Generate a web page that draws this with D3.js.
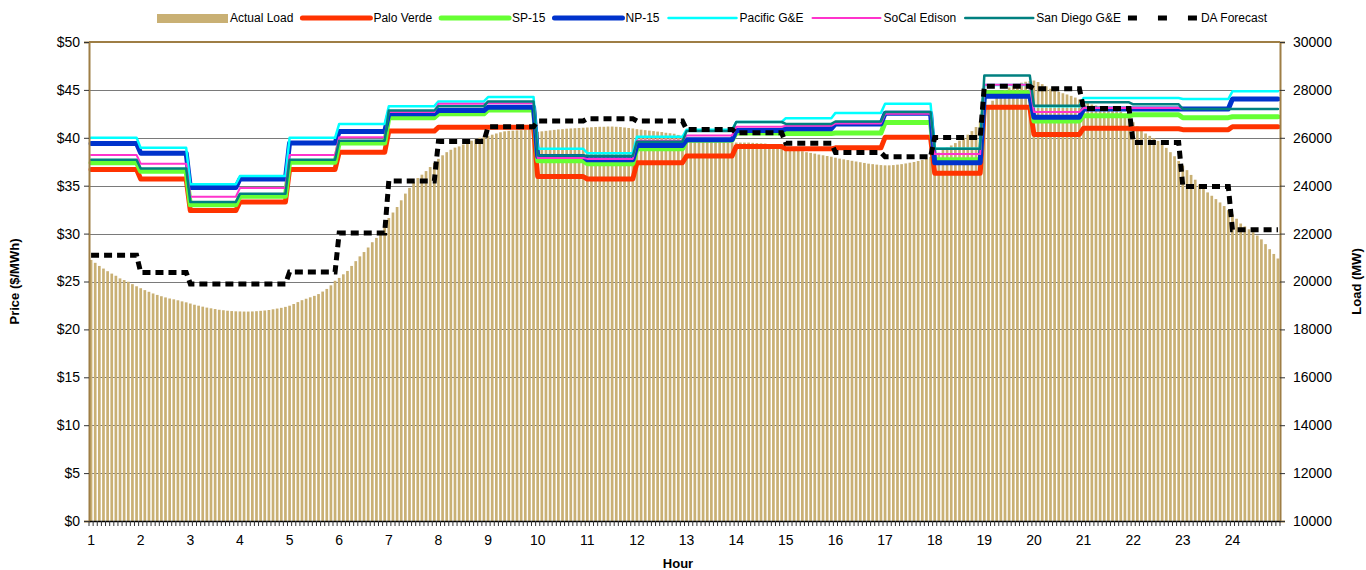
<!DOCTYPE html>
<html>
<head>
<meta charset="utf-8">
<script src="https://cdn.jsdelivr.net/npm/d3@7"></script>
<style>
  body { margin: 0; background: #fff; }
  svg { display: block; font-family: 'Liberation Sans', Arial, sans-serif; }
  .axis text { font-size: 14px; fill: #000; }
  .title { font-size: 13px; font-weight: bold; }
  .legend text { font-size: 12px; }
</style>
</head>
<body>
<svg id="chart" width="1366" height="570"></svg>
<script>
// hour labels
const hours = [1, 2, 3, 4, 5, 6, 7, 8, 9, 10, 11, 12, 13, 14, 15, 16, 17, 18, 19, 20, 21, 22, 23, 24]

// actual load, MW, one value every 5 minutes (12 per hour)
const actualLoad = [
  20900, 20780, 20650, 20540, 20430, 20330, 20240, 20130, 20060, 19990, 19890, 19800,
  19720, 19640, 19570, 19500, 19440, 19385, 19335, 19290, 19255, 19215, 19170, 19130,
  19080, 19030, 18990, 18950, 18910, 18880, 18850, 18820, 18800, 18780, 18765, 18755,
  18750, 18745, 18745, 18750, 18760, 18775, 18790, 18810, 18840, 18870, 18900, 18940,
  18990, 19060, 19140, 19220, 19280, 19340, 19400, 19475, 19580, 19690, 19840, 20030,
  20150, 20300, 20440, 20650, 20850, 21050, 21230, 21420, 21640, 21820, 22030, 22300,
  22650, 22880, 23110, 23390, 23670, 23910, 24160, 24320, 24460, 24610, 24780, 24950,
  25120, 25270, 25400, 25500, 25590, 25640, 25720, 25790, 25880, 25940, 26000, 26040,
  26080, 26130, 26180, 26230, 26270, 26290, 26300, 26310, 26320, 26340, 26350, 26360,
  26250, 26270, 26290, 26310, 26330, 26350, 26360, 26380, 26390, 26400, 26410, 26420,
  26430, 26440, 26450, 26460, 26460, 26470, 26470, 26460, 26450, 26430, 26410, 26390,
  26360, 26340, 26320, 26300, 26280, 26260, 26240, 26210, 26190, 26170, 26120, 26050,
  25990, 25950, 25920, 25900, 25880, 25860, 25850, 25840, 25830, 25820, 25810, 25800,
  25800, 25800, 25800, 25800, 25790, 25780, 25770, 25760, 25740, 25720, 25700, 25670,
  25600, 25560, 25520, 25480, 25440, 25400, 25370, 25340, 25300, 25270, 25240, 25210,
  25170, 25130, 25100, 25070, 25040, 25010, 24980, 24950, 24920, 24900, 24880, 24860,
  24850, 24850, 24860, 24880, 24900, 24930, 24960, 24990, 25030, 25080, 25130, 25200,
  25250, 25380, 25500, 25590, 25680, 25780, 25880, 26000, 26130, 26280, 26450, 26700,
  27000, 27300, 27550, 27750, 27900, 28000, 28100, 28180, 28250, 28300, 28340, 28370,
  28390, 28330, 28240, 28150, 28050, 27980, 27920, 27860, 27810, 27750, 27680, 27600,
  27520, 27450, 27390, 27350, 27310, 27270, 27220, 27180, 27140, 27090, 27000, 26880,
  26650, 26480, 26300, 26180, 26080, 25980, 25870, 25740, 25580, 25400, 25230, 25030,
  24840, 24650, 24450, 24250, 24050, 23860, 23720, 23580, 23440, 23300, 23150, 22980,
  22800, 22620, 22420, 22300, 22180, 22060, 21920, 21760, 21560, 21350, 21150, 20960
]

// hourly prices, $/MWh
const paloVerde = [36.7, 35.7, 32.4, 33.3, 36.7, 38.5, 40.7, 41.1, 41.1, 35.95, 35.7, 37.4, 38.1, 39.1, 38.85, 38.95, 40.05, 36.3, 43.2, 40.35, 41.0, 40.95, 40.85, 41.15]
const sp15 = [37.4, 36.5, 33.0, 33.9, 37.45, 39.45, 42.1, 42.5, 42.9, 37.6, 37.3, 38.85, 39.75, 40.5, 40.45, 40.5, 41.6, 37.7, 44.7, 41.75, 42.3, 42.4, 42.1, 42.2]
const np15 = [39.4, 38.4, 34.8, 35.7, 39.45, 40.65, 42.5, 42.85, 43.2, 38.05, 37.7, 39.2, 39.8, 40.75, 40.95, 41.45, 42.55, 37.4, 44.35, 42.15, 43.0, 43.0, 43.0, 44.05]
const pacificGE = [40.0, 38.95, 35.15, 36.0, 40.0, 41.45, 43.3, 43.8, 44.25, 38.85, 38.4, 40.1, 40.85, 41.65, 42.05, 42.6, 43.55, 38.85, 45.5, 43.3, 44.15, 44.15, 44.05, 44.85]
const socalEdison = [38.2, 37.3, 33.85, 34.75, 38.2, 40.05, 42.7, 43.55, 43.6, 37.9, 37.8, 39.7, 40.25, 41.15, 41.25, 41.5, 42.5, 38.3, 45.55, 42.7, 43.1, 43.1, 43.0, 43.0]
const sanDiegoGE = [37.7, 36.8, 33.3, 34.15, 37.7, 39.7, 42.85, 43.3, 43.8, 38.15, 38.1, 39.6, 40.7, 41.65, 41.45, 41.7, 42.7, 38.85, 46.5, 43.35, 43.7, 43.5, 43.0, 43.0]

// day-ahead load forecast, MW, hourly
const daForecast = [21100, 20380, 19900, 19900, 20400, 22030, 24200, 25850, 26460, 26700, 26800, 26700, 26350, 26210, 25770, 25390, 25210, 26010, 28150, 28050, 27220, 25800, 23970, 22160]

const priceTicks = [0, 5, 10, 15, 20, 25, 30, 35, 40, 45, 50]
const loadTicks = [10000, 12000, 14000, 16000, 18000, 20000, 22000, 24000, 26000, 28000, 30000]

const series = [
  { name: 'Palo Verde', values: paloVerde, color: '#FF3300', width: 5 },
  { name: 'SP-15', values: sp15, color: '#66FF33', width: 5 },
  { name: 'NP-15', values: np15, color: '#0033CC', width: 5 },
  { name: 'Pacific G&E', values: pacificGE, color: '#00FFFF', width: 2.5 },
  { name: 'SoCal Edison', values: socalEdison, color: '#FF33CC', width: 2 },
  { name: 'San Diego G&E', values: sanDiegoGE, color: '#008080', width: 2.5 }
]

const svg = d3.select('#chart')
const plotL = 89, plotR = 1280, plotT = 42, plotB = 521
const border = '#9E7E45'

const x = d3.scaleBand()
  .domain(d3.range(actualLoad.length))
  .range([plotL, plotR])
  .paddingInner(0.35)
  .paddingOuter(0.175)
const yPrice = d3.scaleLinear().domain([0, 50]).range([plotB, plotT])
const yLoad = d3.scaleLinear().domain([10000, 30000]).range([plotB, plotT])
const cx = i => x(i) + x.bandwidth() / 2

// gridlines
svg.append('g')
  .selectAll('line')
  .data(priceTicks.slice(1, -1))
  .join('line')
  .attr('x1', plotL).attr('x2', plotR)
  .attr('y1', d => Math.round(yPrice(d)) + 0.5)
  .attr('y2', d => Math.round(yPrice(d)) + 0.5)
  .attr('stroke', '#7a7a7a')

// load bars
svg.append('g')
  .selectAll('rect')
  .data(actualLoad)
  .join('rect')
  .attr('x', (d, i) => x(i))
  .attr('width', x.bandwidth())
  .attr('y', d => yLoad(d))
  .attr('height', d => plotB - yLoad(d))
  .attr('fill', '#C9B074')

// price lines, stepped by hour
const priceLine = d3.line().x(d => cx(d.i)).y(d => yPrice(d.v))
series.forEach(s => {
  const pts = d3.range(actualLoad.length).map(i => ({ i, v: s.values[Math.floor(i / 12)] }))
  svg.append('path')
    .datum(pts)
    .attr('d', priceLine)
    .attr('fill', 'none')
    .attr('stroke', s.color)
    .attr('stroke-width', s.width)
    .attr('stroke-linejoin', 'round')
    .attr('stroke-linecap', 'round')
})

// DA forecast on load axis
const loadLine = d3.line().x(d => cx(d.i)).y(d => yLoad(d.v))
svg.append('path')
  .datum(d3.range(actualLoad.length).map(i => ({ i, v: daForecast[Math.floor(i / 12)] })))
  .attr('d', loadLine)
  .attr('fill', 'none')
  .attr('stroke', '#000')
  .attr('stroke-width', 5)
  .attr('stroke-dasharray', '8,5')

// plot border top
svg.append('line')
  .attr('x1', plotL).attr('x2', plotR)
  .attr('y1', plotT).attr('y2', plotT)
  .attr('stroke', border).attr('stroke-width', 2)

// axes
const leftAxis = svg.append('g')
  .attr('class', 'axis')
  .attr('transform', `translate(${plotL},0)`)
  .call(d3.axisLeft(yPrice).tickValues(priceTicks).tickFormat(d => '$' + d).tickSize(5).tickPadding(4))
leftAxis.select('.domain').attr('stroke', border).attr('stroke-width', 2)
leftAxis.selectAll('.tick line').attr('stroke', '#333')

const rightAxis = svg.append('g')
  .attr('class', 'axis')
  .attr('transform', `translate(${plotR},0)`)
  .call(d3.axisRight(yLoad).tickValues(loadTicks).tickFormat(d3.format('d')).tickSize(5).tickPadding(8))
rightAxis.select('.domain').attr('stroke', border).attr('stroke-width', 2)
rightAxis.selectAll('.tick line').attr('stroke', '#333')

const bottomAxis = svg.append('g')
  .attr('class', 'axis')
  .attr('transform', `translate(0,${plotB})`)
  .call(d3.axisBottom(x)
    .tickValues(d3.range(0, actualLoad.length, 12))
    .tickFormat(i => hours[i / 12])
    .tickSize(0).tickPadding(14))
bottomAxis.select('.domain').attr('stroke', '#000').attr('stroke-width', 1.5)

// minor ticks at every interval
const gap = x.step() * x.paddingInner() / 2
bottomAxis.append('g')
  .selectAll('line')
  .data(d3.range(actualLoad.length + 1))
  .join('line')
  .attr('x1', i => (i < actualLoad.length ? x(i) - gap : plotR))
  .attr('x2', i => (i < actualLoad.length ? x(i) - gap : plotR))
  .attr('y1', 0).attr('y2', 5)
  .attr('stroke', '#333')
  .attr('stroke-width', 1)

// titles
svg.append('text').attr('class', 'title')
  .attr('transform', `translate(19,${(plotT + plotB) / 2}) rotate(-90)`)
  .attr('text-anchor', 'middle')
  .text('Price ($/MWh)')
svg.append('text').attr('class', 'title')
  .attr('transform', `translate(1361,${(plotT + plotB) / 2}) rotate(-90)`)
  .attr('text-anchor', 'middle')
  .text('Load (MW)')
svg.append('text').attr('class', 'title')
  .attr('x', 678).attr('y', 568)
  .attr('text-anchor', 'middle')
  .text('Hour')

// legend
const legend = svg.append('g').attr('class', 'legend')
const legendItems = [{ name: 'Actual Load', type: 'bar' }]
  .concat(series.map(s => ({ name: s.name, type: 'line', color: s.color, width: s.width })))
  .concat([{ name: 'DA Forecast', type: 'dash' }])
let lx = 157
const ly = 18
legendItems.forEach(d => {
  if (d.type === 'bar') {
    legend.append('rect').attr('x', lx).attr('y', ly - 4).attr('width', 71).attr('height', 9).attr('fill', '#C9B074')
  } else if (d.type === 'line') {
    legend.append('line').attr('x1', lx + 2).attr('x2', lx + 70).attr('y1', ly).attr('y2', ly)
      .attr('stroke', d.color).attr('stroke-width', d.width).attr('stroke-linecap', 'round')
  } else {
    legend.append('line').attr('x1', lx).attr('x2', lx + 71).attr('y1', ly).attr('y2', ly)
      .attr('stroke', '#000').attr('stroke-width', 5).attr('stroke-dasharray', '9,21')
  }
  const t = legend.append('text').attr('x', lx + 73).attr('y', ly + 4).text(d.name)
  lx += 73 + t.node().getComputedTextLength() + 7
})
</script>
</body>
</html>
